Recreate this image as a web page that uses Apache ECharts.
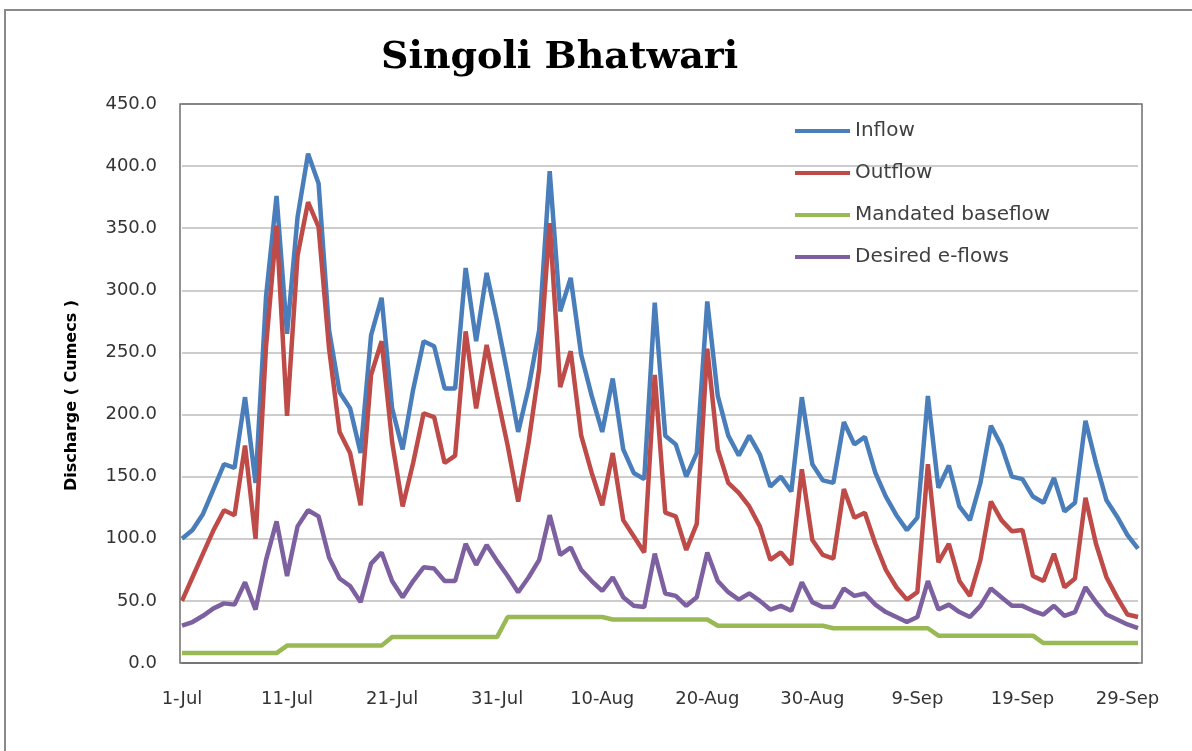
<!DOCTYPE html>
<html>
<head>
<meta charset="utf-8">
<script src="https://cdn.jsdelivr.net/npm/echarts@6/dist/echarts.min.js"></script>
<style>
html,body{margin:0;padding:0;background:#fff;}
#chart{width:1192px;height:751px;}
</style>
</head>
<body>
<div id="chart"></div>
<script>
var dates = [
'1-Jul','2-Jul','3-Jul','4-Jul','5-Jul','6-Jul','7-Jul','8-Jul','9-Jul','10-Jul',
'11-Jul','12-Jul','13-Jul','14-Jul','15-Jul','16-Jul','17-Jul','18-Jul','19-Jul','20-Jul',
'21-Jul','22-Jul','23-Jul','24-Jul','25-Jul','26-Jul','27-Jul','28-Jul','29-Jul','30-Jul','31-Jul',
'1-Aug','2-Aug','3-Aug','4-Aug','5-Aug','6-Aug','7-Aug','8-Aug','9-Aug','10-Aug',
'11-Aug','12-Aug','13-Aug','14-Aug','15-Aug','16-Aug','17-Aug','18-Aug','19-Aug','20-Aug',
'21-Aug','22-Aug','23-Aug','24-Aug','25-Aug','26-Aug','27-Aug','28-Aug','29-Aug','30-Aug','31-Aug',
'1-Sep','2-Sep','3-Sep','4-Sep','5-Sep','6-Sep','7-Sep','8-Sep','9-Sep','10-Sep',
'11-Sep','12-Sep','13-Sep','14-Sep','15-Sep','16-Sep','17-Sep','18-Sep','19-Sep','20-Sep',
'21-Sep','22-Sep','23-Sep','24-Sep','25-Sep','26-Sep','27-Sep','28-Sep','29-Sep','30-Sep'
];

var inflow = [
100,107,120,140,160,157,214,145,295,376,
265,359,410,386,268,218,205,169,264,294,
205,172,220,259,255,221,221,318,259,314,275,
232,186,222,268,396,283,310,248,215,186,
229,172,153,148,290,183,176,150,169,291,
215,183,167,183,168,142,150,138,214,160,147,
145,194,176,182,153,134,119,107,117,215,
141,159,126,115,145,191,175,150,148,134,
129,149,122,129,195,161,131,118,103,92
];

var outflow = [
50,69,88,107,123,119,175,100,255,352,
199,328,371,351,253,186,169,127,232,259,
178,126,161,201,198,161,167,267,205,256,215,
175,130,178,237,354,222,251,183,153,127,
169,115,102,89,232,121,118,91,112,253,
172,145,137,126,110,83,89,79,156,99,87,
84,140,117,121,96,75,61,51,57,160,
81,96,66,54,83,130,115,106,107,70,
66,88,61,68,133,96,69,53,39,37
];

var baseflow = [
8,8,8,8,8,8,8,8,8,8,
14,14,14,14,14,14,14,14,14,14,
21,21,21,21,21,21,21,21,21,21,21,
37,37,37,37,37,37,37,37,37,37,
35,35,35,35,35,35,35,35,35,35,
30,30,30,30,30,30,30,30,30,30,30,
28,28,28,28,28,28,28,28,28,28,
22,22,22,22,22,22,22,22,22,22,
16,16,16,16,16,16,16,16,16,16
];

var eflows = [
30,33,38,44,48,47,65,43,83,114,
70,110,123,118,85,68,62,49,80,89,
66,53,66,77,76,66,66,96,79,95,82,
70,57,69,83,119,87,93,75,66,58,
69,53,46,45,88,56,54,46,53,89,
66,57,51,56,50,43,46,42,65,49,45,
45,60,54,56,47,41,37,33,37,66,
43,47,41,37,46,60,53,46,46,42,
39,46,38,41,61,49,39,35,31,28
];

var seriesNames = ['Inflow','Outflow','Mandated baseflow','Desired e-flows'];
var seriesColors = ['#4A7EBB','#BE4B48','#98B954','#7D60A0'];
var seriesData = [inflow, outflow, baseflow, eflows];

var chart = echarts.init(document.getElementById('chart'), null, {renderer:'canvas'});

var option = {
  backgroundColor: '#ffffff',
  animation: false,
  title: {
    text: 'Singoli Bhatwari',
    left: 376,
    top: 34,
    textStyle: {
      fontFamily: 'DejaVu Serif',
      fontWeight: 'bold',
      fontSize: 38,
      color: '#000000'
    }
  },
  legend: {
    orient: 'vertical',
    left: 795,
    top: 121,
    padding: 0,
    icon: 'rect',
    itemWidth: 55,
    itemHeight: 4,
    itemGap: 22,
    data: seriesNames,
    textStyle: {
      fontFamily: 'DejaVu Sans',
      fontSize: 20,
      color: '#404040'
    }
  },
  grid: {
    left: 182,
    right: 54,
    top: 104,
    bottom: 88,
    containLabel: false
  },
  xAxis: {
    type: 'category',
    data: dates,
    boundaryGap: false,
    axisTick: {show: false},
    axisLine: {show: true, lineStyle: {color: '#7a7a7a', width: 1.5}},
    splitLine: {show: false},
    axisLabel: {
      interval: 9,
      margin: 27,
      fontFamily: 'DejaVu Sans',
      fontSize: 18,
      color: '#333333'
    }
  },
  yAxis: {
    type: 'value',
    min: 0,
    max: 450,
    interval: 50,
    name: 'Discharge ( Cumecs )',
    nameLocation: 'middle',
    nameGap: 102,
    nameTextStyle: {
      fontFamily: 'DejaVu Sans',
      fontWeight: 'bold',
      fontSize: 16,
      color: '#000000',
      padding: [0, 24, 0, 0]
    },
    axisLine: {show: false},
    axisTick: {show: false},
    splitLine: {lineStyle: {color: '#bdbdbd', width: 1.5}},
    axisLabel: {
      margin: 25,
      fontFamily: 'DejaVu Sans',
      fontSize: 18,
      color: '#333333',
      formatter: function (v) { return v.toFixed(1); }
    }
  },
  graphic: [
    {
      type: 'rect',
      silent: true,
      z: 100,
      shape: {x: 180, y: 104, width: 962, height: 559},
      style: {fill: 'none', stroke: '#6e6e6e', lineWidth: 1.5}
    },
    {
      type: 'rect',
      silent: true,
      z: 100,
      shape: {x: 5, y: 10, width: 1220, height: 800},
      style: {fill: 'none', stroke: '#8a8a8a', lineWidth: 2}
    }
  ],
  series: seriesNames.map(function (name, k) {
    return {
      name: name,
      type: 'line',
      data: seriesData[k],
      symbol: 'none',
      smooth: false,
      color: seriesColors[k],
      lineStyle: {width: 4.5, color: seriesColors[k]}
    };
  })
};

chart.setOption(option);
</script>
</body>
</html>
